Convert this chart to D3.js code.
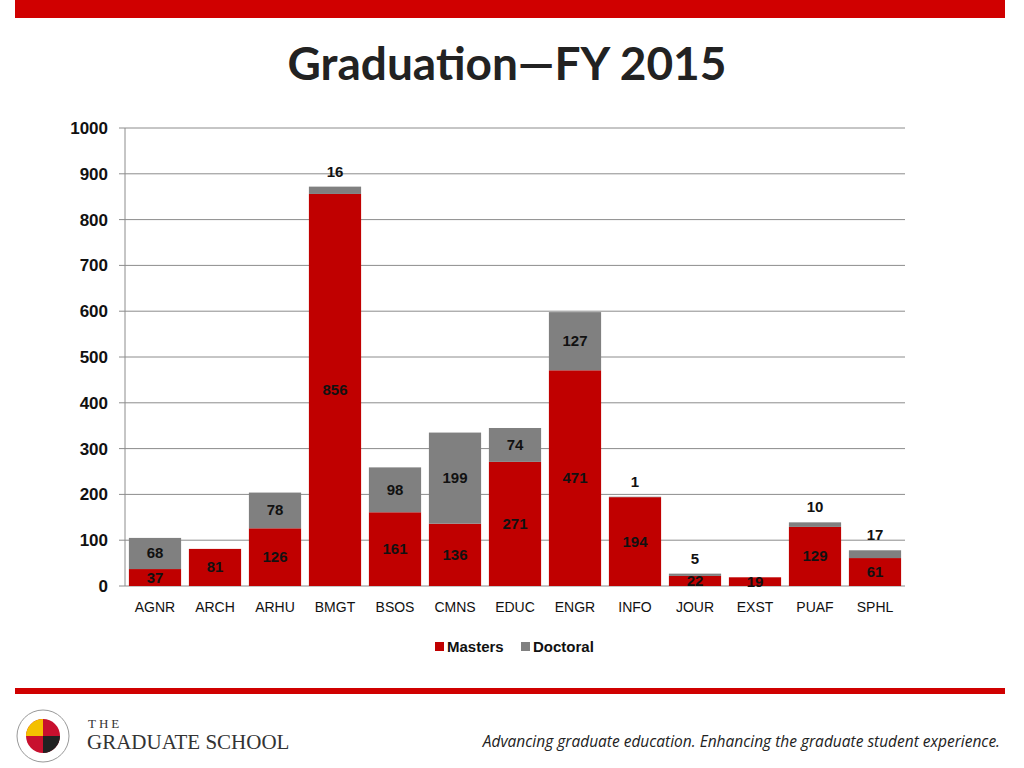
<!DOCTYPE html>
<html><head><meta charset="utf-8">
<script src="https://cdn.jsdelivr.net/npm/d3@7"></script>
<style>body{margin:0;background:#fff}svg{display:block}</style>
</head><body>
<svg id="c" width="1024" height="768"></svg>
<script>
const categories=["AGNR","ARCH","ARHU","BMGT","BSOS","CMNS","EDUC","ENGR","INFO","JOUR","EXST","PUAF","SPHL"];
const masters=[37,81,126,856,161,136,271,471,194,22,19,129,61];
const doctoral=[68,0,78,16,98,199,74,127,1,5,0,10,17];
const yTicks=[0,100,200,300,400,500,600,700,800,900,1000];
const seriesNames=["Masters","Doctoral"];
const colors=["#c00000","#808080"];

const svg=d3.select("#c");
svg.append("rect").attr("x",15).attr("y",0).attr("width",990).attr("height",18).attr("fill","#d00000");
svg.append("text").attr("x",507).attr("y",80).attr("text-anchor","middle")
 .attr("font-family","Lato, 'Open Sans', sans-serif").attr("font-weight","bold").attr("font-size",46).attr("fill","#222")
 .text("Graduation\u2014FY 2015");

const x=d3.scaleBand().domain(categories).range([125,905]).paddingInner(0.13).paddingOuter(0.065);
const y=d3.scaleLinear().domain([0,1000]).range([586,128]);
const font="'Liberation Sans', Arial, sans-serif";

const g=svg.append("g");
g.selectAll("line.grid").data(yTicks).join("line").attr("x1",125).attr("x2",905)
 .attr("y1",d=>y(d)).attr("y2",d=>y(d)).attr("stroke","#8c8c8c").attr("stroke-width",1);
g.append("line").attr("x1",125).attr("x2",125).attr("y1",128).attr("y2",586).attr("stroke","#8c8c8c");
g.selectAll("line.tk").data(yTicks).join("line").attr("x1",119).attr("x2",125)
 .attr("y1",d=>y(d)).attr("y2",d=>y(d)).attr("stroke","#8c8c8c");
g.selectAll("text.yl").data(yTicks).join("text").attr("x",108).attr("y",d=>y(d)+6)
 .attr("text-anchor","end").attr("font-family",font).attr("font-weight","bold").attr("font-size",17).attr("fill","#111").text(d=>d);

const data=categories.map((c,i)=>({c,m:masters[i],d:doctoral[i]}));
g.selectAll("rect.m").data(data).join("rect").attr("x",d=>x(d.c)).attr("width",x.bandwidth())
 .attr("y",d=>y(d.m)).attr("height",d=>y(0)-y(d.m)).attr("fill",colors[0]);
g.selectAll("rect.d").data(data.filter(d=>d.d>0)).join("rect").attr("x",d=>x(d.c)).attr("width",x.bandwidth())
 .attr("y",d=>y(d.m+d.d)).attr("height",d=>y(d.m)-y(d.m+d.d)).attr("fill",colors[1]);

const lab=(sel)=>sel.attr("text-anchor","middle").attr("font-family",font).attr("font-weight","bold").attr("font-size",15).attr("fill","#111");
g.selectAll("text.ml").data(data).join("text").call(lab).attr("x",d=>x(d.c)+x.bandwidth()/2)
 .attr("y",d=>(y(d.m)+y(0))/2+5).text(d=>d.m);
g.selectAll("text.dl").data(data.filter(d=>d.d>0)).join("text").call(lab).attr("x",d=>x(d.c)+x.bandwidth()/2)
 .attr("y",d=>d.d<20? y(d.m+d.d)-10 : (y(d.m)+y(d.m+d.d))/2+5).text(d=>d.d);

g.selectAll("text.xl").data(categories).join("text").attr("x",d=>x(d)+x.bandwidth()/2).attr("y",612)
 .attr("text-anchor","middle").attr("font-family",font).attr("font-size",14).attr("fill","#111").text(d=>d);

const leg=svg.append("g");
const lx=[435,521];
seriesNames.forEach((n,i)=>{
 leg.append("rect").attr("x",lx[i]).attr("y",642).attr("width",9).attr("height",9).attr("fill",colors[i]);
 leg.append("text").attr("x",lx[i]+12).attr("y",652).attr("font-family",font).attr("font-weight","bold").attr("font-size",15).attr("fill","#111").text(n);
});

svg.append("rect").attr("x",15).attr("y",688).attr("width",990).attr("height",6).attr("fill","#d00000");
const lg=svg.append("g").attr("transform","translate(43,736)");
lg.append("circle").attr("r",26).attr("fill","#fff").attr("stroke","#999").attr("stroke-width",1);
lg.append("circle").attr("r",17).attr("fill","#c8102e");
lg.append("path").attr("d","M-17,0 A17,17 0 0,1 0,-17 L0,0Z").attr("fill","#f4c000");
lg.append("path").attr("d","M0,0 L17,0 A17,17 0 0,1 0,17Z").attr("fill","#222");
svg.append("text").attr("x",88).attr("y",728).attr("font-family","'Liberation Serif', serif").attr("font-size",13).attr("letter-spacing",3).attr("fill","#333").text("THE");
svg.append("text").attr("x",87).attr("y",749).attr("font-family","'Liberation Serif', serif").attr("font-size",21).attr("fill","#333").text("GRADUATE SCHOOL");
svg.append("text").attr("x",1000).attr("y",747).attr("text-anchor","end").attr("font-family","'Open Sans', sans-serif")
 .attr("font-style","italic").attr("font-size",15.5).attr("fill","#222")
 .text("Advancing graduate education. Enhancing the graduate student experience.");
</script></body></html>
